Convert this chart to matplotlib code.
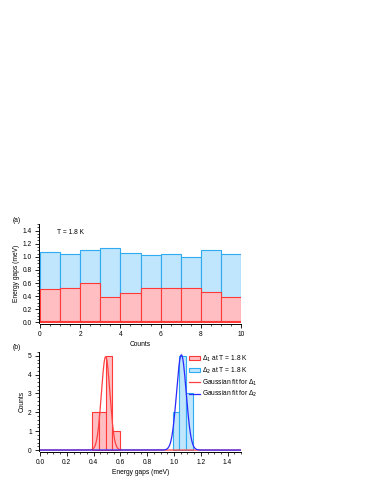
import numpy as np
import matplotlib.pyplot as plt

#Energy gaps per count (meV)
counts = np.arange(10)
gap1 = [0.51, 0.53, 0.60, 0.39, 0.45, 0.52, 0.53, 0.52, 0.46, 0.39]
gap2 = [1.07, 1.05, 1.11, 1.13, 1.06, 1.03, 1.05, 0.99, 1.11, 1.05]

#histogram bins
bins1 = [0.39, 0.44, 0.49, 0.54, 0.60]
bins2 = [0.99, 1.04, 1.09, 1.14]

#gaussian fit parameters (amp, centre, sigma)
fit1 = (4.95, 0.49, 0.032)
fit2 = (5.05, 1.055, 0.036)

red_e = '#ff3838'
red_f = '#ffbfc2'
blue_e = '#30aaf0'
blue_f = '#bfe6fc'

plt.rcParams['font.family'] = 'Liberation Sans'
plt.rcParams['font.size'] = 4.8

fig = plt.figure(figsize=(3.74, 4.84), dpi=100)
ax1 = fig.add_axes([40/374, 1-323/484, 201/374, 99/484])
ax2 = fig.add_axes([40/374, 1-451/484, 201/374, 99/484])

def igor(ax):
    for s in ['top', 'right']:
        ax.spines[s].set_visible(False)
    for s in ['left', 'bottom']:
        ax.spines[s].set_linewidth(0.7)
        ax.spines[s].set_position(('outward', 1))
    ax.tick_params(direction='out', length=3, width=0.6, pad=2)
    ax.tick_params(which='minor', direction='out', length=1.5, width=0.5)
    ax.minorticks_on()

##panel (a)
ax1.bar(counts, gap2, width=1, align='edge', color=blue_f, edgecolor=blue_e, linewidth=0.8)
ax1.bar(counts, gap1, width=1, align='edge', color=red_f, edgecolor=red_e, linewidth=0.8)
ax1.axhline(0, color=red_e, lw=1.5)
ax1.set_xlim(0, 10)
ax1.set_ylim(-0.01, 1.5)
ax1.set_yticks(np.arange(0, 1.41, 0.2))
ax1.set_xticks(np.arange(0, 11, 2))
ax1.set_xlabel('Counts', labelpad=2)
ax1.set_ylabel('Energy gaps (meV)', labelpad=2)
ax1.text(0.085, 0.9, 'T = 1.8 K', transform=ax1.transAxes)
igor(ax1)
fig.text(13/374, 1-222/484, '(a)')

##panel (b)
xx = np.linspace(0, 1.5, 600)
g1 = fit1[0]*np.exp(-(xx-fit1[1])**2/(2*fit1[2]**2))
g2 = fit2[0]*np.exp(-(xx-fit2[1])**2/(2*fit2[2]**2))
ax2.hist(gap1, bins=bins1, color=red_f, edgecolor=red_e, linewidth=0.8, label=r'$\Delta_1$ at T = 1.8 K')
ax2.hist(gap2, bins=bins2, color=blue_f, edgecolor=blue_e, linewidth=0.8, label=r'$\Delta_2$ at T = 1.8 K')
ax2.plot(xx, g1, color='#ff4040', lw=0.9, label=r'Gaussian fit for $\Delta_1$')
ax2.plot(xx, g2, color='#2a2aff', lw=0.9, label=r'Gaussian fit for $\Delta_2$')
ax2.set_xlim(0, 1.5)
ax2.set_ylim(-0.05, 5.2)
ax2.set_xticks(np.arange(0, 1.41, 0.2))
ax2.set_yticks(range(6))
ax2.set_xlabel('Energy gaps (meV)', labelpad=2)
ax2.set_ylabel('Counts', labelpad=2)
igor(ax2)
ax2.legend(loc='upper left', bbox_to_anchor=(0.72, 1.03), frameon=False,
           handlelength=1.6, handleheight=0.6, handletextpad=0.3, labelspacing=0.25,
           borderpad=0.2)
fig.text(13/374, 1-349/484, '(b)')

plt.savefig('out.png', dpi=100)
